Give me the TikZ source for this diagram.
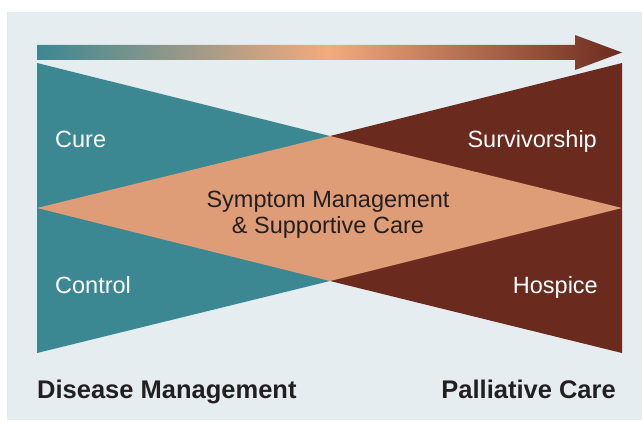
\documentclass[tikz,border=0pt]{standalone}
\usepackage{fontspec}
\setmainfont{Liberation Sans}
\usetikzlibrary{positioning}
\definecolor{panelbg}{HTML}{E5EDF0}
\definecolor{cureteal}{HTML}{3B8892}
\definecolor{carebrown}{HTML}{6B2A1E}
\definecolor{symptomorange}{HTML}{DF9D77}
\definecolor{peach}{HTML}{F4AA7E}
\definecolor{inkdark}{HTML}{231F20}
\tikzstyle{wedge}=[
	draw=none
]
\tikzstyle{lbl}=[
	inner sep=0pt,
	text=white,
	font=\fontsize{23.5}{26}\selectfont
]
\tikzstyle{midlbl}=[
	lbl,
	text=inkdark,
	align=center
]
\tikzstyle{axislbl}=[
	inner sep=0pt,
	text=inkdark,
	font=\bfseries\fontsize{25.5}{28}\selectfont
]

\begin{document}
\begin{tikzpicture}[x=1pt, y=-1pt]
\fill[white] (0,0) rectangle (642,420);
\fill[panelbg] (7,12) rectangle (642,420);
\useasboundingbox (0,0) rectangle (642,420);

\coordinate (lt) at (37,63);
\coordinate (lm) at (37,208);
\coordinate (lb) at (37,353);
\coordinate (ct) at (330,136);
\coordinate (cb) at (330,281);
\coordinate (rt) at (622,63);
\coordinate (rm) at (622,208);
\coordinate (rb) at (622,353);

\fill[wedge, cureteal] (lt) -- (ct) -- (cb) -- (lb) -- cycle;
\fill[wedge, carebrown] (rt) -- (ct) -- (cb) -- (rb) -- cycle;
\fill[wedge, symptomorange] (lm) -- (ct) -- (rm) -- (cb) -- cycle;

% time arrow
\shade[left color=cureteal, right color=carebrown, middle color=peach]
    (37,45) -- (575,45) -- (575,35) -- (622,52.5) -- (575,70) -- (575,60) -- (37,60) -- cycle;

\node[lbl, anchor=base west] (cure) at (55,147) {Cure};
\node[lbl, anchor=base west] (control) at (55,293) {Control};
\node[lbl, anchor=base east] (surv) at (597,147) {Survivorship};
\node[lbl, anchor=base east] (hospice) at (598,293) {Hospice};
\node[midlbl, anchor=base] (symptom) at (328,233) {Symptom Management\\ \& Supportive Care};

\node[axislbl, anchor=base west] (disease) at (37,398) {Disease Management};
\node[axislbl, anchor=base east] (palliative) at (616,398) {Palliative Care};
\end{tikzpicture}
\end{document}
